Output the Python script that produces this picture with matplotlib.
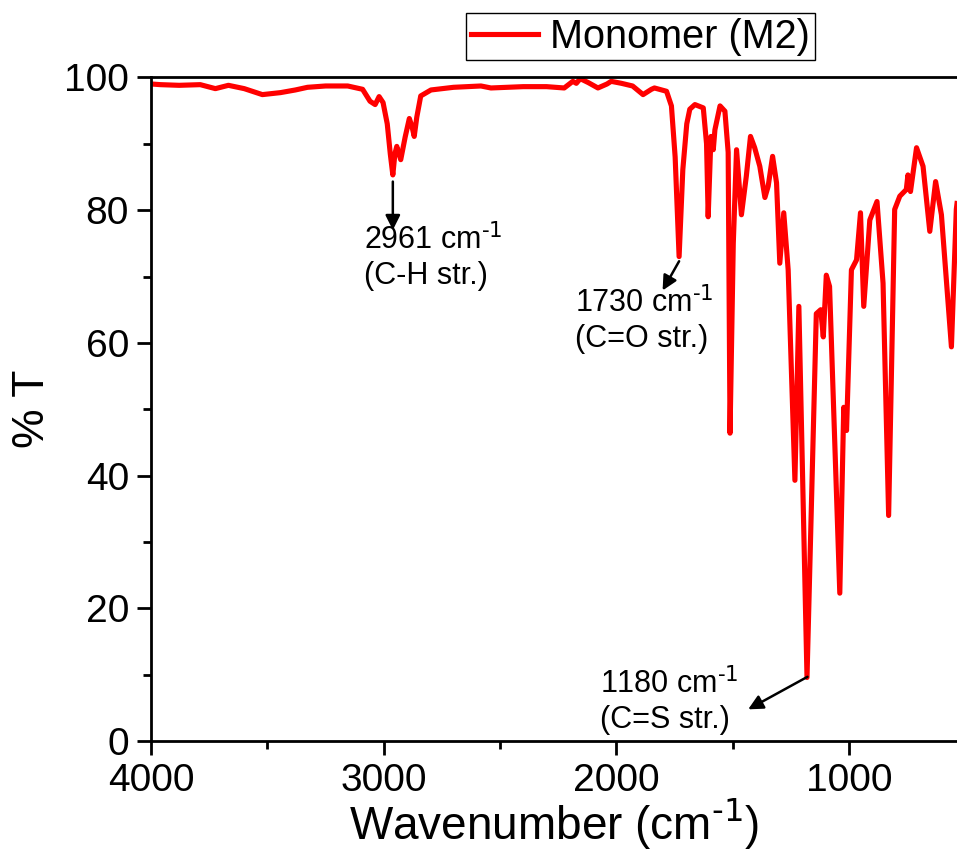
import numpy as np
import matplotlib
matplotlib.use('Agg')
import matplotlib.pyplot as plt

plt.rcParams['font.family'] = ['Liberation Sans', 'DejaVu Sans']
plt.rcParams['mathtext.default'] = 'regular'
plt.rcParams['axes.unicode_minus'] = False

# FTIR spectrum of monomer M2 (wavenumber in cm-1, transmittance in %)
wavenumber = [4000, 3960, 3880, 3789, 3724, 3668, 3600, 3522, 3444, 3380,
              3328, 3250, 3155, 3091, 3059, 3037, 3020, 3003, 2985, 2972,
              2961, 2952, 2944, 2927, 2908, 2890, 2878, 2869, 2858, 2841,
              2797, 2700, 2582, 2539, 2400, 2300, 2224, 2187, 2172, 2155,
              2120, 2079, 2040, 2022, 1978, 1930, 1885, 1849, 1836, 1784,
              1763, 1747, 1730, 1714, 1697, 1684, 1662, 1626, 1612, 1605,
              1593, 1583, 1576, 1554, 1533, 1519, 1511, 1497, 1483, 1462,
              1441, 1423, 1405, 1383, 1361, 1347, 1328, 1311, 1297, 1280,
              1261, 1232, 1215, 1180, 1140, 1121, 1110, 1097, 1083, 1039,
              1022, 1010, 989, 967, 950, 936, 910, 879, 853, 829,
              803, 781, 753, 746, 735, 709, 681, 652, 627, 602,
              559, 538, 535]
transmittance = [99.0, 98.9, 98.8, 98.9, 98.3, 98.8, 98.3, 97.4, 97.7, 98.1,
                 98.5, 98.7, 98.7, 98.2, 96.4, 95.9, 97.1, 96.2, 93.0, 88.5,
                 85.3, 88.5, 89.6, 87.6, 91.0, 93.8, 92.5, 91.1, 94.0, 97.2,
                 98.1, 98.5, 98.7, 98.4, 98.6, 98.6, 98.4, 99.4, 99.1, 99.8,
                 99.2, 98.4, 99.0, 99.4, 99.1, 98.7, 97.4, 98.2, 98.4, 97.9,
                 95.7, 88.0, 73.0, 86.1, 93.0, 95.2, 95.9, 95.4, 90.0, 79.0,
                 91.1, 89.1, 92.1, 95.7, 94.9, 88.7, 46.4, 75.0, 89.1, 79.3,
                 85.1, 91.1, 89.4, 86.6, 81.9, 83.6, 88.1, 84.1, 72.0, 79.6,
                 71.0, 39.3, 65.5, 9.6, 64.4, 65.0, 60.9, 70.2, 68.5, 22.3,
                 50.3, 46.8, 71.0, 72.5, 79.6, 65.5, 78.5, 81.3, 69.0, 34.0,
                 80.1, 82.1, 83.1, 85.3, 82.8, 89.4, 86.6, 76.8, 84.3, 79.3,
                 59.4, 80.1, 81.0]

fig = plt.figure(figsize=(9.57, 8.5), dpi=100)
ax = fig.add_axes([0.158, 0.128, 0.842, 0.781])

ax.plot(wavenumber, transmittance, color='#ff0000', lw=3.7, label='Monomer (M2)')

ax.set_xlim(4000, 535)
ax.set_ylim(0, 100)
ax.set_xticks([4000, 3000, 2000, 1000])
ax.set_xticks([3500, 2500, 1500], minor=True)
ax.set_yticks(np.arange(0, 101, 20))
ax.set_yticks(np.arange(10, 100, 20), minor=True)

ax.tick_params(which='major', direction='out', length=10, width=2, labelsize=28, pad=6)
ax.tick_params(which='minor', direction='out', length=6, width=2)
for side in ['left', 'bottom', 'top']:
    ax.spines[side].set_linewidth(2)
ax.spines['right'].set_visible(False)

# superscript written with a plain hyphen, as on the original plot
inv_cm = r'cm$^{\text{-1}}$'
ax.set_xlabel('Wavenumber (' + inv_cm + ')', fontsize=33, labelpad=-2)
ax.set_ylabel('% T', fontsize=32, labelpad=8)

arrow = dict(arrowstyle='-|>', color='black', lw=1.8, mutation_scale=22,
             shrinkA=0, shrinkB=0)
ax.annotate('', xy=(2961, 77.0), xytext=(2961, 84.3), arrowprops=arrow)
ax.text(3085, 77.9, '2961 ' + inv_cm + '\n(C-H str.)', fontsize=22, va='top', ha='left')
ax.annotate('', xy=(1801, 67.9), xytext=(1730, 72.3), arrowprops=arrow)
ax.text(2178, 68.4, '1730 ' + inv_cm + '\n(C=O str.)', fontsize=22, va='top', ha='left')
ax.annotate('', xy=(1433, 4.8), xytext=(1178, 9.7), arrowprops=arrow)
ax.text(2070, 11.0, '1180 ' + inv_cm + '\n(C=S str.)', fontsize=22, va='top', ha='left')

leg = ax.legend(loc='upper left', bbox_to_anchor=(0.487, 0.985),
                bbox_transform=fig.transFigure, fontsize=28.5, frameon=True,
                fancybox=False, framealpha=1, edgecolor='black',
                handlelength=1.7, handletextpad=0.3, borderpad=0.12,
                borderaxespad=0)
leg.get_frame().set_linewidth(1.0)

fig.savefig('out.png', dpi=100)
